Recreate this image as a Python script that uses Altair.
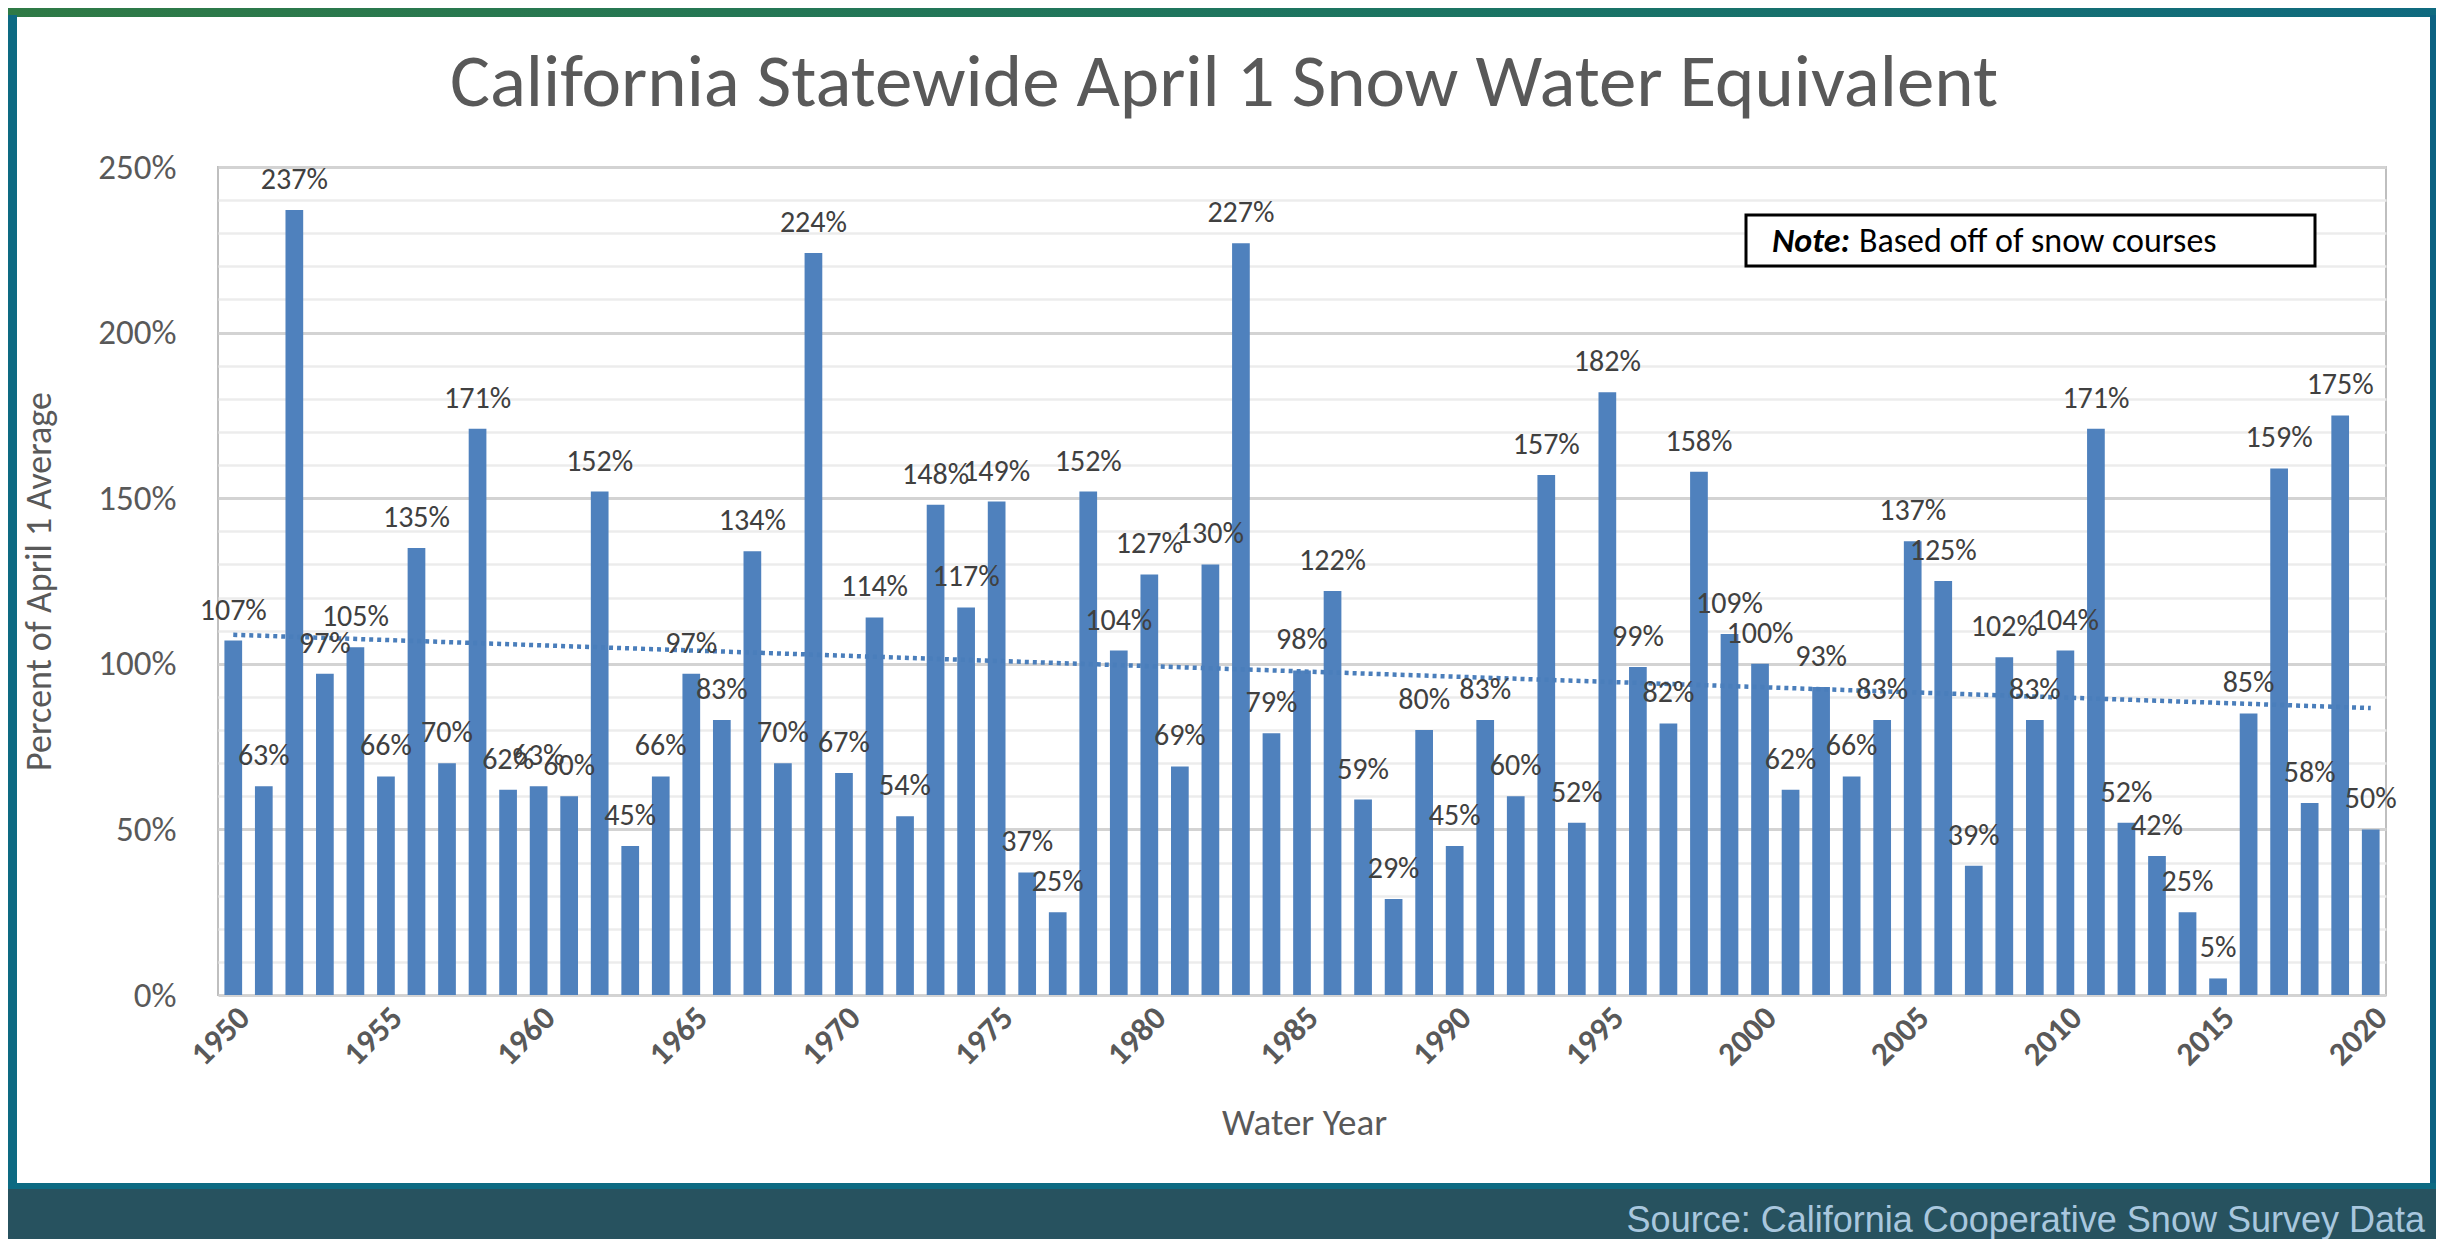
import altair as alt
import pandas as pd

# ---------------- data ----------------
years = list(range(1950, 2021))
swe_pct = [107, 63, 237, 97, 105, 66, 135, 70, 171, 62,
           63, 60, 152, 45, 66, 97, 83, 134, 70, 224,
           67, 114, 54, 148, 117, 149, 37, 25, 152, 104,
           127, 69, 130, 227, 79, 98, 122, 59, 29, 80,
           45, 83, 60, 157, 52, 182, 99, 82, 158, 109,
           100, 62, 93, 66, 83, 137, 125, 39, 102, 83,
           104, 171, 52, 42, 25, 5, 85, 159, 58, 175,
           50]
x_label_years = [1950, 1955, 1960, 1965, 1970, 1975, 1980, 1985,
                 1990, 1995, 2000, 2005, 2010, 2015, 2020]
y_ticks = [0, 10, 20, 30, 40, 50, 60, 70, 80, 90, 100, 110, 120, 130, 140,
           150, 160, 170, 180, 190, 200, 210, 220, 230, 240, 250]

title_text = "California Statewide April 1 Snow Water Equivalent"
x_title = "Water Year"
y_title = "Percent of April 1 Average"
note_bold = "Note:"
note_rest = "Based off of snow courses"
source_text = "Source: California Cooperative Snow Survey Data"

df = pd.DataFrame({"year": years, "pct": swe_pct})
df["label"] = [f"{v}%" for v in swe_pct]

FONT = "Carlito, Lato, sans-serif"
BAR = "#4f81bd"
W, H = 2168, 828

x_scale = alt.Scale(paddingInner=0.42, paddingOuter=0.21)
x_axis = alt.Axis(values=x_label_years, labelAngle=-45, labelAlign="right",
                  labelBaseline="top", labelPadding=6, ticks=False, domain=False,
                  labelFont=FONT, labelFontSize=33, labelColor="#595959",
                  labelFontWeight="bold", labelOverlap=False,
                  grid=False, title=x_title, titleFont=FONT, titleFontSize=37,
                  titleFontWeight="normal", titleColor="#595959",
                  titleX=1086, titleY=128, titleBaseline="middle")
y_scale = alt.Scale(domain=[0, 250], nice=False)
y_axis = alt.Axis(values=y_ticks,
                  labelExpr="datum.value % 50 === 0 ? datum.value + '%' : ''",
                  labelOverlap=False, labelFlush=False,
                  ticks=False, domain=False, labelPadding=42,
                  labelFont=FONT, labelFontSize=35, labelColor="#595959",
                  grid=True,
                  gridColor={"condition": {"test": "datum.value % 50 === 0",
                                           "value": "#d3d3d3"},
                             "value": "#ececec"},
                  gridWidth={"condition": {"test": "datum.value % 50 === 0",
                                           "value": 3},
                             "value": 2.5},
                  title=y_title, titleFont=FONT, titleFontSize=36,
                  titleFontWeight="normal", titleColor="#595959",
                  titleX=-179, titleY=414, titleBaseline="middle")

x_bar = alt.X("year:O", scale=x_scale, axis=x_axis)
x_mid = alt.X("year:O", scale=x_scale, axis=x_axis, bandPosition=0.5)
y_enc = alt.Y("pct:Q", scale=y_scale, axis=y_axis)

one = pd.DataFrame({"k": [0]})

# frame pieces (decoration, outside the plot area)
frame_top = alt.Chart(one).mark_rect(
    fill={"gradient": "linear", "x1": 0, "x2": 1, "y1": 0, "y2": 0,
          "stops": [{"offset": 0, "color": "#2f7a45"},
                    {"offset": 0.6, "color": "#1b7463"},
                    {"offset": 1, "color": "#0f6a80"}]}
).encode(x=alt.value(-230), x2=alt.value(2240), y=alt.value(-170), y2=alt.value(-150))
frame_left = alt.Chart(one).mark_rect(fill="#0d6a82").encode(
    x=alt.value(-230), x2=alt.value(-201), y=alt.value(-152), y2=alt.value(1090))
frame_right = alt.Chart(one).mark_rect(fill="#0d6282").encode(
    x=alt.value(2212), x2=alt.value(2240), y=alt.value(-152), y2=alt.value(1090))
frame_bottom_strip = alt.Chart(one).mark_rect(fill="#0d6a82").encode(
    x=alt.value(-230), x2=alt.value(2240), y=alt.value(1016), y2=alt.value(1023))
frame_bottom = alt.Chart(one).mark_rect(fill="#27525f").encode(
    x=alt.value(-230), x2=alt.value(2240), y=alt.value(1022), y2=alt.value(1090))

bars = alt.Chart(df).mark_bar(color=BAR).encode(x=x_bar, y=y_enc)

trend = alt.Chart(df).transform_regression("year", "pct").mark_line(
    color="#4a7ebb", strokeWidth=4.5, strokeDash=[4, 4]
).encode(x=x_mid, y=y_enc)

labels = alt.Chart(df).mark_text(
    font=FONT, fontSize=30, color="#404040", baseline="alphabetic", dy=-21
).encode(x=x_mid, y=y_enc, text="label:N")

title = alt.Chart(pd.DataFrame({"t": [title_text]})).mark_text(
    font=FONT, fontSize=75, color="#595959", align="center", baseline="alphabetic"
).encode(text="t:N", x=alt.value(1006), y=alt.value(-61))

note_box = alt.Chart(one).mark_rect(fill="white", stroke="black", strokeWidth=3).encode(
    x=alt.value(1528), x2=alt.value(2097), y=alt.value(48), y2=alt.value(99))
note1 = alt.Chart(pd.DataFrame({"t": [note_bold]})).mark_text(
    font=FONT, fontSize=34, fontWeight="bold", fontStyle="italic", color="black",
    align="left", baseline="alphabetic"
).encode(text="t:N", x=alt.value(1554), y=alt.value(85))
note2 = alt.Chart(pd.DataFrame({"t": [note_rest]})).mark_text(
    font=FONT, fontSize=34, color="black", align="left", baseline="alphabetic"
).encode(text="t:N", x=alt.value(1641), y=alt.value(85))

source = alt.Chart(pd.DataFrame({"t": [source_text]})).mark_text(
    font="Liberation Sans, Arial, sans-serif", fontSize=36, color="#a9c7de",
    align="right", baseline="alphabetic"
).encode(text="t:N", x=alt.value(2207), y=alt.value(1065))

chart = alt.layer(
    frame_top, frame_left, frame_right, frame_bottom_strip, frame_bottom,
    bars, trend, labels, title, note_box, note1, note2, source
).properties(
    width=W, height=H,
    background="white",
    padding={"left": 210, "top": 159, "right": 50, "bottom": 244},
    autosize=alt.AutoSizeParams(type="none"),
).configure_view(stroke="#bfbfbf", strokeWidth=2)

chart.save("out.html", embed_options={"renderer": "svg", "actions": False})
